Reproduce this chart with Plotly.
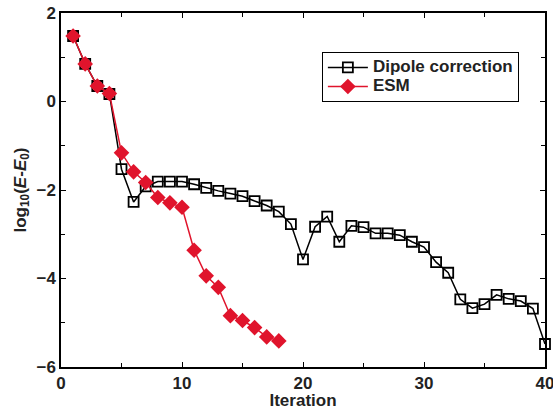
import plotly.graph_objects as go

iterations_dipole = list(range(1, 41))
dipole = [1.48, 0.85, 0.35, 0.17, -1.53, -2.27, -1.92, -1.81, -1.81, -1.81,
          -1.87, -1.95, -2.02, -2.08, -2.14, -2.25, -2.35, -2.49, -2.77, -3.57,
          -2.83, -2.60, -3.17, -2.81, -2.84, -2.98, -2.98, -3.02, -3.17, -3.29,
          -3.63, -3.87, -4.47, -4.67, -4.58, -4.37, -4.46, -4.51, -4.68, -5.48]
iterations_esm = list(range(1, 19))
esm = [1.48, 0.85, 0.35, 0.18, -1.16, -1.59, -1.83, -2.17, -2.29, -2.39,
       -3.36, -3.94, -4.20, -4.84, -4.95, -5.11, -5.32, -5.41]
series_names = ["Dipole correction", "ESM"]

FONT = "Liberation Sans, Arial, sans-serif"
RED = "#e0142c"
TXT = "#222"


def big(s):
    return '<span style="font-size:17px">' + s + '</span>'


fig = go.Figure()
fig.add_trace(go.Scatter(
    x=iterations_dipole, y=dipole, name=big(series_names[0]),
    mode="lines+markers", cliponaxis=False,
    line=dict(color="black", width=1.5),
    marker=dict(symbol="square-open", size=10, color="black", line=dict(width=1.8)),
))
fig.add_trace(go.Scatter(
    x=iterations_esm, y=esm, name=big(series_names[1]),
    mode="lines+markers", cliponaxis=False,
    line=dict(color=RED, width=1.5),
    marker=dict(symbol="diamond", size=12, color=RED),
))

axis_common = dict(
    showline=True, linecolor="black", linewidth=1.5, mirror="allticks",
    ticks="inside", ticklen=5, tickwidth=1.2, tickcolor="black",
    showgrid=False, zeroline=False, automargin=False,
    ticklabeloverflow="allow",
    tickfont=dict(family=FONT, size=17, color=TXT, weight="bold"),
)

fig.update_xaxes(range=[0, 40], dtick=10, tick0=0,
                 minor=dict(dtick=5, ticks="inside", ticklen=4, tickcolor="black"),
                 title=dict(text="Iteration", font=dict(family=FONT, size=17, color=TXT, weight="bold"), standoff=0),
                 **axis_common)
fig.update_yaxes(range=[-6, 2], dtick=2, tick0=0,
                 minor=dict(dtick=1, ticks="inside", ticklen=4, tickcolor="black"),
                 title=dict(text="log<sub>10</sub>(<i>E</i>-<i>E</i><sub>0</sub>)",
                            font=dict(family=FONT, size=17, color=TXT, weight="bold"), standoff=6),
                 **axis_common)

fig.update_layout(
    width=553, height=410,
    margin=dict(l=61, r=8, t=13, b=43),
    plot_bgcolor="white", paper_bgcolor="white",
    legend=dict(x=0.539, y=0.89, xanchor="left", yanchor="top",
                bordercolor="black", borderwidth=1, bgcolor="white",
                font=dict(family=FONT, size=12, color=TXT, weight="bold"),
                tracegroupgap=0, itemwidth=40),
)

fig.write_html("out.html", config={"displayModeBar": False},
               post_script="document.body.style.margin='0px';document.body.style.overflow='hidden';")
